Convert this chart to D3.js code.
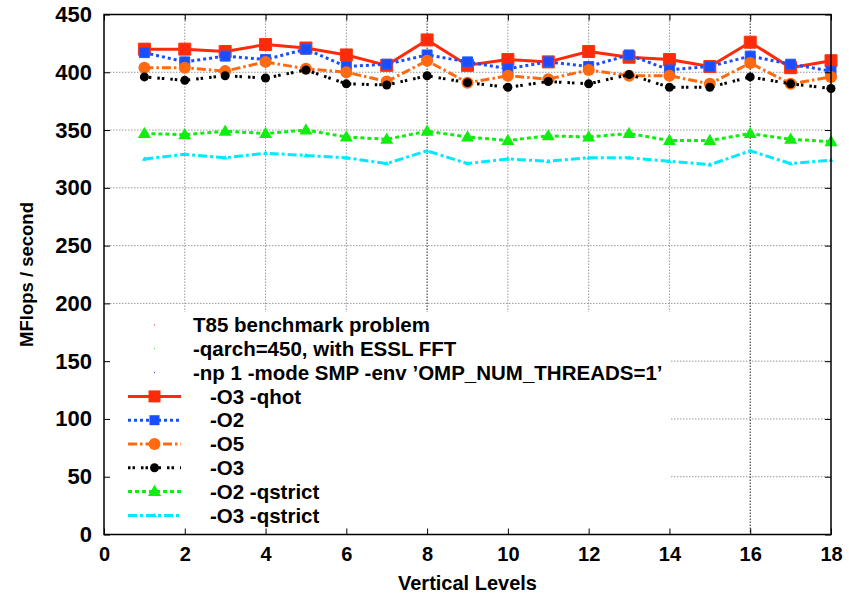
<!DOCTYPE html>
<html>
<head>
<meta charset="utf-8">
<script src="https://cdn.jsdelivr.net/npm/d3@7"></script>
<style>
  html, body { margin: 0; padding: 0; background: #fff; }
  svg { display: block; }
  text { font-family: "Liberation Sans", Arial, Helvetica, sans-serif; font-weight: bold; fill: #000; }
</style>
</head>
<body>
<script>
// Vertical levels on the x axis
const levels = [1, 2, 3, 4, 5, 6, 7, 8, 9, 10, 11, 12, 13, 14, 15, 16, 17, 18];

// MFlops/second for each compiler option set
const o3qhot    = [420, 420, 418, 424, 421, 415, 406, 428, 406, 411, 409, 418, 413, 411, 405, 426, 404, 410];
const o2        = [417, 409, 414, 411, 420, 405, 407, 415, 409, 403, 409, 405, 415, 402, 405, 414, 407, 401];
const o5        = [404, 404, 401, 409, 403, 400, 392, 410, 391, 397, 394, 402, 397, 397, 390, 408, 390, 396];
const o3        = [396, 393, 397, 395, 402, 390, 389, 397, 391, 387, 392, 390, 398, 387, 387, 396, 390, 386];
const o2qstrict = [347, 346, 349, 347, 350, 344, 342, 349, 344, 341, 345, 344, 347, 341, 341, 347, 342, 340];
const o3qstrict = [325, 329, 326, 330, 328, 326, 321, 332, 321, 325, 323, 326, 326, 323, 320, 332, 321, 324];

const xTicks = [0, 2, 4, 6, 8, 10, 12, 14, 16, 18];
const yTicks = [0, 50, 100, 150, 200, 250, 300, 350, 400, 450];

const headerLines = [
  "T85 benchmark problem",
  "-qarch=450, with ESSL FFT",
  "-np 1 -mode SMP -env \u2019OMP_NUM_THREADS=1\u2019"
];
const headerDotColors = ["#ff3030", "#30e030", "#3050ff"];

const seriesNames = ["-O3 -qhot", "-O2", "-O5", "-O3", "-O2 -qstrict", "-O3 -qstrict"];
const seriesValues = [o3qhot, o2, o5, o3, o2qstrict, o3qstrict];

// Drawing styles per series
const styles = [
  { color: "#ff2a0a", dash: null,            width: 3,   marker: "square",   size: 12 },
  { color: "#1a4dff", dash: "3,3",           width: 3,   marker: "square",   size: 10 },
  { color: "#ff6a10", dash: "9,3,2.5,3",     width: 3,   marker: "circle",   size: 6 },
  { color: "#000000", dash: "2.5,2,2.5,6",   width: 3,   marker: "circle",   size: 4.5 },
  { color: "#10ee10", dash: "4,3",           width: 3,   marker: "triangle", size: 13 },
  { color: "#00eaff", dash: "9,3,3,3",       width: 3,   marker: "triangle", size: 5 }
];

const W = 849, H = 599;
const plot = { left: 104, right: 831, top: 14.5, bottom: 534.5 };
const legendFont = 20.5;

const svg = d3.select("body").append("svg")
  .attr("width", W).attr("height", H);

const x = d3.scaleLinear().domain([0, 18]).range([plot.left, plot.right]);
const y = d3.scaleLinear().domain([0, 450]).range([plot.bottom, plot.top]);

// Grid lines
const grid = svg.append("g");
grid.selectAll("line.gy").data(yTicks.filter(v => v > 0 && v < 450)).join("line")
  .attr("x1", plot.left).attr("x2", plot.right)
  .attr("y1", d => y(d)).attr("y2", d => y(d))
  .attr("stroke", "#999").attr("stroke-width", 1).attr("stroke-dasharray", "1.5,1.5");
grid.selectAll("line.gx").data(xTicks.filter(v => v > 0 && v < 18)).join("line")
  .attr("x1", d => x(d)).attr("x2", d => x(d))
  .attr("y1", plot.top).attr("y2", plot.bottom)
  .attr("stroke", d => (d === 8 || d === 16) ? "#222" : "#999")
  .attr("stroke-width", 1).attr("stroke-dasharray", "1.5,1.5");

// Marker path generator
function markerPath(type, s) {
  if (type === "square") {
    return d3.symbol().type(d3.symbolSquare).size(s * s)();
  }
  if (type === "circle") {
    return d3.symbol().type(d3.symbolCircle).size(Math.PI * s * s)();
  }
  const h = s * 0.87;
  return `M0,${-h * 0.6}L${s / 2},${h * 0.4}L${-s / 2},${h * 0.4}Z`;
}

const line = d3.line().x((d, i) => x(levels[i])).y(d => y(d));

// Series
const seriesG = svg.append("g");
seriesValues.forEach((vals, k) => {
  const st = styles[k];
  const g = seriesG.append("g");
  g.append("path").datum(vals)
    .attr("d", line)
    .attr("fill", "none")
    .attr("stroke", st.color)
    .attr("stroke-width", st.width)
    .attr("stroke-dasharray", st.dash)
    .attr("stroke-linejoin", "round");
  g.selectAll("path.m").data(vals).join("path")
    .attr("class", "m")
    .attr("transform", (d, i) => `translate(${x(levels[i])},${y(d)})`)
    .attr("d", markerPath(st.marker, st.size))
    .attr("fill", st.color)
    .attr("stroke", st.marker === "square" ? d3.color(st.color).brighter(0.6) : "none")
    .attr("stroke-width", 1);
});

// Legend (opaque background)
const leg = svg.append("g");
leg.append("rect")
  .attr("x", plot.left).attr("y", 312)
  .attr("width", 671 - plot.left).attr("height", plot.bottom - 312)
  .attr("fill", "#fff");

const rowY = i => 325 + i * 23.8;
headerLines.forEach((t, i) => {
  leg.append("rect").attr("x", 154).attr("y", rowY(i) - 0.5)
    .attr("width", 1).attr("height", 1).attr("fill", headerDotColors[i]);
  leg.append("text").attr("x", 193).attr("y", rowY(i)).attr("dy", "0.35em")
    .attr("font-size", legendFont).text(t);
});
seriesNames.forEach((name, k) => {
  const st = styles[k];
  const yy = rowY(k + 3);
  leg.append("line").attr("x1", 128).attr("x2", 181).attr("y1", yy).attr("y2", yy)
    .attr("stroke", st.color).attr("stroke-width", st.width).attr("stroke-dasharray", st.dash);
  leg.append("path").attr("transform", `translate(154.5,${yy})`)
    .attr("d", markerPath(st.marker, st.size))
    .attr("fill", st.color);
  leg.append("text").attr("x", 210).attr("y", yy).attr("dy", "0.35em")
    .attr("font-size", legendFont).text(name);
});

// Axes frame and ticks
const axes = svg.append("g");
axes.append("rect")
  .attr("x", plot.left).attr("y", plot.top)
  .attr("width", plot.right - plot.left).attr("height", plot.bottom - plot.top)
  .attr("fill", "none").attr("stroke", "#000").attr("stroke-width", 1.5);

const tl = 6;
const bottomAxis = d3.axisBottom(x).tickValues(xTicks).tickSize(-tl).tickPadding(12).tickFormat(d3.format("d"));
const topAxis = d3.axisTop(x).tickValues(xTicks).tickSize(-tl).tickFormat("");
const leftAxis = d3.axisLeft(y).tickValues(yTicks).tickSize(-tl).tickPadding(12).tickFormat(d3.format("d"));
const rightAxis = d3.axisRight(y).tickValues(yTicks).tickSize(-tl).tickFormat("");

function styleAxis(size) {
  return g => {
    g.select(".domain").remove();
    g.selectAll(".tick line").attr("stroke", "#000").attr("stroke-width", 1);
    g.selectAll(".tick text")
      .style("font-family", "\"Liberation Sans\", Arial, sans-serif")
      .style("font-weight", "bold").attr("font-size", size).attr("fill", "#000");
  };
}
axes.append("g").attr("transform", `translate(0,${plot.bottom})`).call(bottomAxis).call(styleAxis(20));
axes.append("g").attr("transform", `translate(0,${plot.top})`).call(topAxis).call(styleAxis(20));
axes.append("g").attr("transform", `translate(${plot.left},0)`).call(leftAxis).call(styleAxis(22));
axes.append("g").attr("transform", `translate(${plot.right},0)`).call(rightAxis).call(styleAxis(22));

// Axis titles
svg.append("text")
  .attr("x", (plot.left + plot.right) / 2).attr("y", 583)
  .attr("dy", "0.35em").attr("text-anchor", "middle")
  .attr("font-size", 20).text("Vertical Levels");
svg.append("text")
  .attr("transform", `translate(27,${(plot.top + plot.bottom) / 2}) rotate(-90)`)
  .attr("dy", "0.35em").attr("text-anchor", "middle")
  .attr("font-size", 18.5).text("MFlops / second");
</script>
</body>
</html>
